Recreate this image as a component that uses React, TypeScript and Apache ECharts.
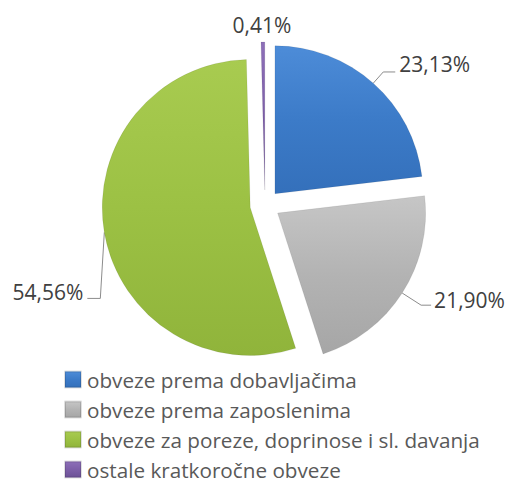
import React, { useEffect, useRef } from "react";
import * as echarts from "echarts";

const categories = [
  "obveze prema dobavljačima",
  "obveze prema zaposlenima",
  "obveze za poreze, doprinose i sl. davanja",
  "ostale kratkoročne obveze",
];
const values = [23.13, 21.9, 54.56, 0.41];
const labels = ["23,13%", "21,90%", "54,56%", "0,41%"];

const palette = [
  ["#4d8cd8", "#3c7bc8", "#3470bb"],
  ["#c6c6c6", "#b3b3b3", "#a6a6a6"],
  ["#a8cb50", "#9cc144", "#90b43b"],
  ["#8d6fb8", "#7d5fa8", "#6c5196"],
];

// per-slice label styling (leader line lengths, text alignment/padding)
const labelStyles = [
  { length: 15, length2: 12, distance: 4, vAlign: "bottom", padding: [0, 0, -3, 0] },
  { length: 22.5, length2: 10, distance: 3, vAlign: "bottom", padding: [0, 0, -5, 0] },
  { length: 1, length2: 1, distance: 0, vAlign: "top", padding: [49, 19, 0, 0] },
  { length: 1, length2: 1, distance: 0, vAlign: "bottom", padding: [0, 0, 6, 0] },
];

function grad(c: string[]) {
  return new echarts.graphic.LinearGradient(0, 0, 0, 1, [
    { offset: 0, color: c[0] },
    { offset: 0.5, color: c[1] },
    { offset: 1, color: c[2] },
  ]);
}

export default function App() {
  const ref = useRef<HTMLDivElement>(null);
  useEffect(() => {
    if (!ref.current) return;
    const chart = echarts.init(ref.current, undefined, { renderer: "svg" });
    chart.setOption({
      animation: false,
      legend: {
        orient: "vertical",
        left: 51,
        top: 356,
        height: 119,
        itemWidth: 16,
        itemHeight: 16,
        itemGap: 9,
        icon: "rect",
        textStyle: { fontFamily: "Open Sans", fontSize: 20.7, color: "#595959", padding: [0, 0, 0, 1] },
        data: categories,
      },
      series: [
        {
          type: "pie",
          center: [257, 197],
          radius: 148,
          startAngle: 90,
          clockwise: true,
          selectedMode: "multiple",
          selectedOffset: 15,
          avoidLabelOverlap: false,
          label: {
            show: true,
            position: "outside",
            fontFamily: "Open Sans",
            fontSize: 21,
            color: "#404040",
            formatter: (p: any) => labels[p.dataIndex],
          },
          labelLine: {
            show: true,
            lineStyle: { color: "#8c8c8c", width: 1 },
          },
          labelLayout: (p: any) => {
            const pts = p.labelLinePoints;
            const i = p.dataIndex;
            const out: any = { verticalAlign: labelStyles[i].vAlign };
            if (!pts) return out;
            const a = pts[0];
            if (i === 2) {
              const b = [a[0] - 4, a[1] + 66];
              const c = [a[0] - 17, a[1] + 66];
              out.labelLinePoints = [a, b, c];
            }
            if (i === 3) {
              out.align = "center";
              out.labelLinePoints = [a, a, a];
            }
            return out;
          },
          itemStyle: { borderColor: "rgba(0,0,0,0.12)", borderWidth: 0.6 },
          emphasis: { disabled: true },
          data: values.map((v, i) => ({
            name: categories[i],
            value: v,
            selected: true,
            itemStyle: { color: grad(palette[i]) },
            label: {
              distanceToLabelLine: labelStyles[i].distance,
              padding: labelStyles[i].padding,
            },
            labelLine: { length: labelStyles[i].length, length2: labelStyles[i].length2 },
          })),
        },
      ],
      color: palette.map((p) => p[1]),
    });
    return () => chart.dispose();
  }, []);
  return <div ref={ref} style={{ width: 497, height: 475 }} />;
}
